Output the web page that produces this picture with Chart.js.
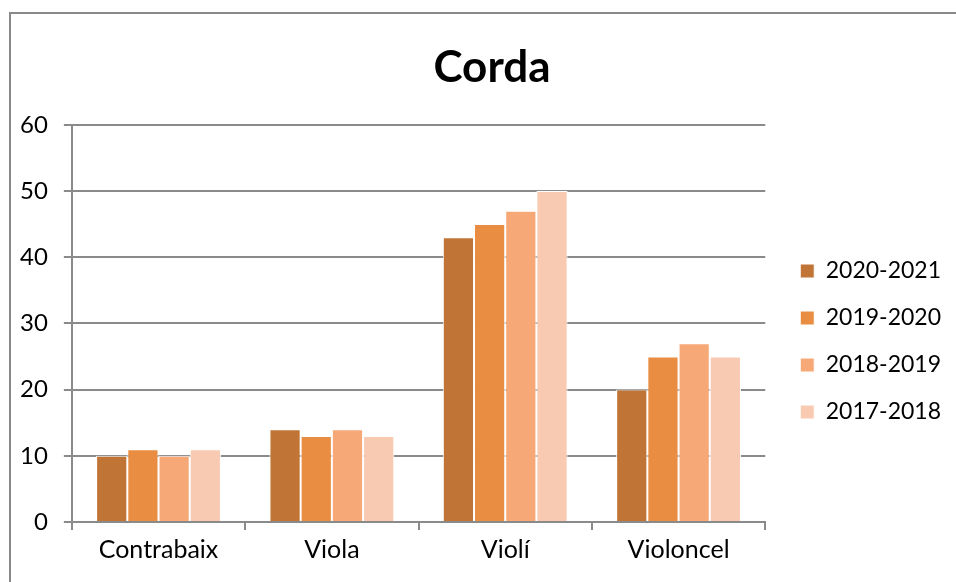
<!DOCTYPE html>
<html>
<head>
<meta charset="utf-8">
<script src="https://cdn.jsdelivr.net/npm/chart.js@4/dist/chart.umd.min.js"></script>
<style>
  body { margin: 0; background: #fff; }
  #wrap { position: relative; width: 956px; height: 582px; }
  #frame { position: absolute; left: 9px; top: 12px; width: 960px; height: 600px; border: 2px solid #898989; box-sizing: border-box; }
  canvas { position: absolute; left: 0; top: 0; }
</style>
</head>
<body>
<div id="wrap">
  <div id="frame"></div>
  <canvas id="cordaChart" width="956" height="582"></canvas>
</div>
<script>
const instruments = ['Contrabaix', 'Viola', 'Violí', 'Violoncel'];
const curs2020 = [10, 14, 43, 20];
const curs2019 = [11, 13, 45, 25];
const curs2018 = [10, 14, 47, 27];
const curs2017 = [11, 13, 50, 25];

const font = 'Lato, "Open Sans", sans-serif';
const ctx = document.getElementById('cordaChart').getContext('2d');

// nudge the legend and title to where Excel puts them
const nudge = {
  id: 'nudge',
  afterLayout(chart) {
    const lg = chart.legend;
    lg.left += 11; lg.right += 11;
    lg.top += 36; lg.bottom += 36;
    const t = chart.titleBlock;
    t.left += 20; t.right += 20;
  }
};

new Chart(ctx, {
  type: 'bar',
  data: {
    labels: instruments,
    datasets: [
      { label: '2020-2021', data: curs2020, backgroundColor: '#c07536' },
      { label: '2019-2020', data: curs2019, backgroundColor: '#e88d42' },
      { label: '2018-2019', data: curs2018, backgroundColor: '#f6a977' },
      { label: '2017-2018', data: curs2017, backgroundColor: '#f9cab2' }
    ]
  },
  options: {
    responsive: false,
    animation: false,
    datasets: {
      bar: { categoryPercentage: 0.72, barPercentage: 1, borderColor: '#ffffff', borderWidth: 1 }
    },
    layout: { padding: { left: 4, right: 16, top: 41, bottom: 12 } },
    scales: {
      x: {
        grid: { drawOnChartArea: false, drawTicks: true, tickLength: 8, color: '#8a8a8a', lineWidth: 2, offset: true },
        border: { color: '#8a8a8a', width: 2 },
        ticks: { color: '#000', font: { family: font, size: 25 }, padding: 5 }
      },
      y: {
        min: 0, max: 60,
        ticks: { stepSize: 10, color: '#000', font: { family: font, size: 24 }, padding: 16 },
        grid: { color: '#8a8a8a', lineWidth: 2, tickLength: 8 },
        border: { color: '#8a8a8a', width: 2 }
      }
    },
    plugins: {
      title: {
        display: true,
        text: 'Corda',
        color: '#000',
        font: { family: font, size: 44, weight: 'bold' },
        padding: { top: 0, bottom: 31 }
      },
      legend: {
        position: 'right',
        labels: {
          color: '#000',
          font: { family: font, size: 23 },
          boxWidth: 14,
          boxHeight: 14,
          padding: 24
        }
      },
      tooltip: { enabled: false }
    }
  },
  plugins: [nudge]
});
</script>
</body>
</html>
